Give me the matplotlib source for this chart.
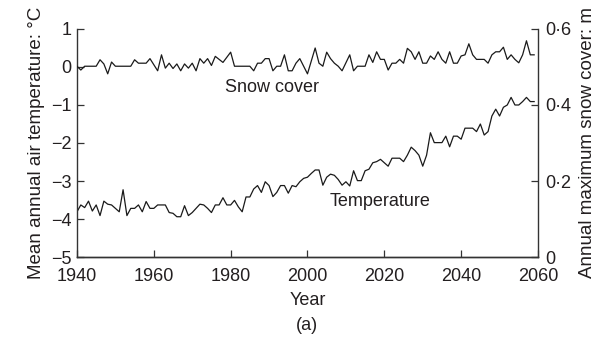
import matplotlib
matplotlib.use("Agg")
import matplotlib.pyplot as plt
from matplotlib.ticker import FuncFormatter

plt.rcParams['font.family'] = ['Liberation Sans', 'DejaVu Sans']

# ---- data ----
temp_years = list(range(1940, 2060))
temp_values = [
    -3.81, -3.63, -3.70, -3.53, -3.79, -3.63, -3.91, -3.53, -3.61, -3.63,
    -3.72, -3.81, -3.23, -3.91, -3.72, -3.72, -3.63, -3.81, -3.54, -3.72,
    -3.72, -3.63, -3.63, -3.63, -3.83, -3.85, -3.94, -3.94, -3.65, -3.91,
    -3.83, -3.72, -3.61, -3.63, -3.72, -3.83, -3.63, -3.63, -3.44, -3.63,
    -3.63, -3.51, -3.68, -3.81, -3.42, -3.42, -3.21, -3.12, -3.30, -3.02,
    -3.12, -3.41, -3.30, -3.12, -3.12, -3.32, -3.12, -3.15,
    -3.02, -2.93, -2.90, -2.80, -2.71, -2.71, -3.11, -2.90, -2.82, -2.85,
    -2.96, -3.11, -3.02, -3.13, -2.73, -2.99, -2.99, -2.73, -2.69, -2.52,
    -2.49, -2.43, -2.52, -2.61, -2.40, -2.40, -2.40, -2.49, -2.32, -2.11,
    -2.20, -2.32, -2.61, -2.32, -1.73, -1.99, -1.99, -1.99, -1.82, -2.10,
    -1.82, -1.82, -1.90, -1.61, -1.61, -1.61, -1.70, -1.50, -1.79, -1.70,
    -1.29, -1.11, -1.29, -1.06, -1.00, -0.80, -1.00, -1.00, -0.91, -0.80,
    -0.91, -0.91,
]
temp_years = temp_years[:len(temp_values)]

snow_years = [
    1940, 1941, 1942, 1945, 1946, 1947, 1948, 1949, 1950, 1954,
    1955, 1956, 1958, 1959, 1961, 1962, 1963, 1964, 1965, 1966,
    1967, 1968, 1969, 1970, 1971, 1972, 1973, 1974, 1975, 1976,
    1978, 1980, 1981, 1985, 1986, 1987, 1988, 1989, 1990, 1991,
    1992, 1993, 1994, 1995, 1996, 1997, 1998, 2000, 2002, 2003,
    2004, 2005, 2006, 2007, 2008, 2009, 2011, 2012, 2013, 2015,
    2016, 2017, 2018, 2019, 2020, 2021, 2022, 2023, 2024, 2025,
    2026, 2027, 2028, 2029, 2030, 2031, 2032, 2033, 2034, 2035,
    2036, 2037, 2038, 2039, 2040, 2041, 2042, 2043, 2044, 2046,
    2047, 2048, 2049, 2050, 2051, 2052, 2053, 2054, 2055, 2056,
    2057, 2058, 2059,
]
snow_values = [
    0.502, 0.492, 0.502, 0.502, 0.519, 0.508, 0.482, 0.513, 0.502, 0.502,
    0.519, 0.510, 0.510, 0.522, 0.490, 0.532, 0.497, 0.510, 0.496, 0.508,
    0.490, 0.508, 0.497, 0.510, 0.490, 0.522, 0.510, 0.522, 0.504, 0.528,
    0.512, 0.539, 0.502, 0.502, 0.490, 0.510, 0.510, 0.522, 0.522, 0.490,
    0.502, 0.502, 0.532, 0.490, 0.490, 0.510, 0.522, 0.482, 0.550, 0.510,
    0.502, 0.539, 0.522, 0.510, 0.502, 0.490, 0.532, 0.490, 0.502, 0.502,
    0.532, 0.512, 0.540, 0.520, 0.520, 0.492, 0.510, 0.510, 0.520, 0.510,
    0.549, 0.540, 0.520, 0.540, 0.510, 0.510, 0.529, 0.520, 0.540, 0.520,
    0.510, 0.540, 0.510, 0.510, 0.529, 0.532, 0.561, 0.532, 0.520, 0.520,
    0.510, 0.532, 0.540, 0.540, 0.552, 0.520, 0.532, 0.520, 0.511, 0.532,
    0.569, 0.532, 0.532,
]

x_ticks = [1940, 1960, 1980, 2000, 2020, 2040, 2060]
temp_ticks = [1, 0, -1, -2, -3, -4, -5]
snow_ticks = [0, 0.2, 0.4, 0.6]

# ---- figure ----
txt = '#231f20'
fs = 13
fig = plt.figure(figsize=(6.09, 3.41), dpi=100)
ax = fig.add_axes([0.1264, 0.2463, 0.757, 0.6687])
ax2 = ax.twinx()

ax.plot(temp_years, temp_values, color='#1a1a1a', lw=0.9)
ax2.plot(snow_years, snow_values, color='#1a1a1a', lw=0.9)

ax.set_xlim(1940, 2060)
ax.set_ylim(-5, 1)
ax2.set_ylim(0, 0.6)
ax.set_xticks(x_ticks)
ax.set_yticks(temp_ticks)
ax2.set_yticks(snow_ticks)
ax.yaxis.set_major_formatter(FuncFormatter(lambda v, p: f"{int(v)}".replace('-', '\u2212')))
ax2.yaxis.set_major_formatter(FuncFormatter(
    lambda v, p: '0' if abs(v) < 1e-9 else f"{v:.1f}".replace('.', '\u00b7')))

for a in (ax, ax2):
    a.spines['top'].set_visible(False)
    for s in a.spines.values():
        s.set_color('#333333')
        s.set_linewidth(1.0)
    a.tick_params(direction='in', length=5, width=0.9, colors='#333333',
                  labelcolor=txt, labelsize=fs)
ax2.spines['left'].set_visible(False)
ax.spines['right'].set_visible(False)
ax.tick_params(axis='x', pad=8)
ax.tick_params(axis='y', pad=4)
ax2.tick_params(axis='y', pad=5)

ax.set_xlabel('Year', fontsize=fs, color=txt, labelpad=5)
ax.set_ylabel('Mean annual air temperature: \u00b0C', fontsize=13.5, color=txt, labelpad=4)
ax2.set_ylabel('Annual maximum snow cover: m', fontsize=13.5, color=txt, labelpad=6)

ax.text(1990.8, -0.55, 'Snow cover', fontsize=fs, color=txt, ha='center', va='center')
ax.text(2018.9, -3.53, 'Temperature', fontsize=fs, color=txt, ha='center', va='center')
fig.text(0.504, 0.044, '(a)', fontsize=fs, color=txt, ha='center', va='center')

fig.savefig('out.png', dpi=100)
